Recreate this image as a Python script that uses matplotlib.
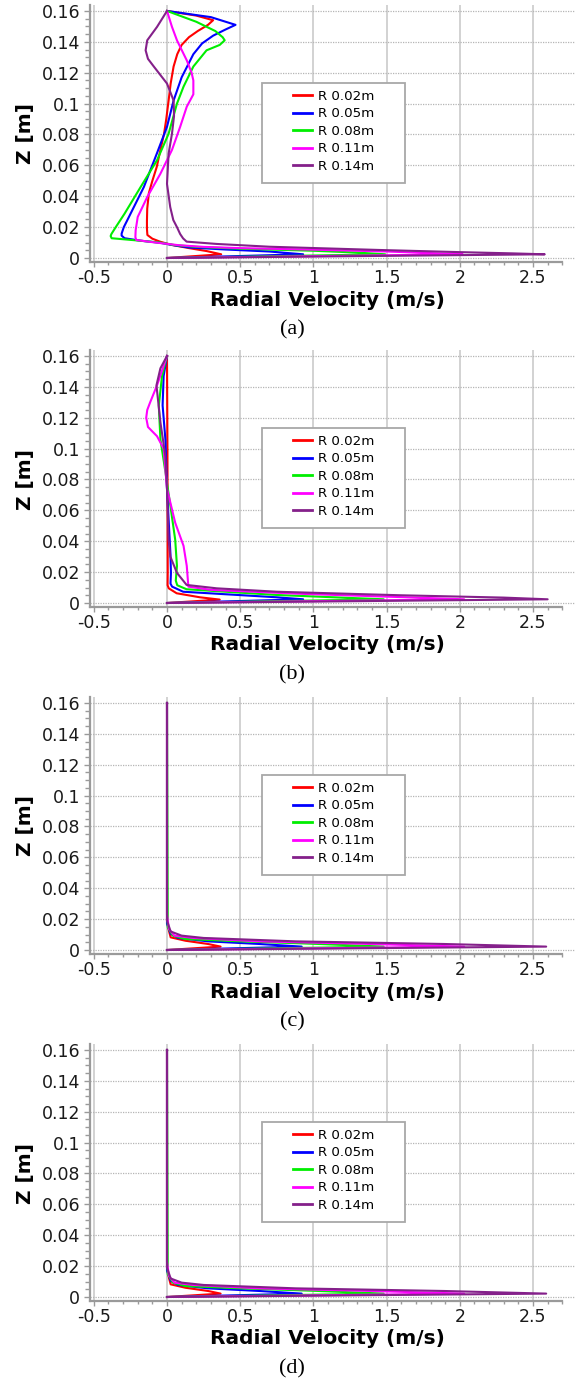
import matplotlib
matplotlib.use("Agg")
import matplotlib.pyplot as plt
from matplotlib.patches import Rectangle
from matplotlib.ticker import MultipleLocator, FixedLocator

# ---------------- data ----------------
SERIES_LABELS = ["R 0.02m", "R 0.05m", "R 0.08m", "R 0.11m", "R 0.14m"]
SERIES_COLORS = ["#ff0000", "#0000ff", "#00ee00", "#ff00ff", "#84208a"]
PANEL_CAPTIONS = ["(a)", "(b)", "(c)", "(d)"]
X_TICKS = [-0.5, 0, 0.5, 1, 1.5, 2, 2.5]
X_TICK_LABELS = ["-0.5", "0", "0.5", "1", "1.5", "2", "2.5"]
Y_TICKS = [0, 0.02, 0.04, 0.06, 0.08, 0.1, 0.12, 0.14, 0.16]
Y_TICK_LABELS = ["0", "0.02", "0.04", "0.06", "0.08", "0.1", "0.12", "0.14", "0.16"]

# Panel (a)
A_R002_Z = [0.16, 0.157, 0.154, 0.151, 0.147, 0.143, 0.138, 0.132, 0.124, 0.113, 0.102, 0.09, 0.0805, 0.07, 0.059, 0.05, 0.042, 0.032, 0.024, 0.019, 0.0149, 0.0125, 0.0106, 0.0085, 0.0063, 0.0045, 0.0024, 0.0]
A_R002_V = [0.0, 0.2, 0.315, 0.28, 0.21, 0.15, 0.10, 0.07, 0.045, 0.025, 0.011, -0.005, -0.02, -0.045, -0.07, -0.1, -0.124, -0.135, -0.137, -0.137, -0.134, -0.10, -0.048, 0.03, 0.157, 0.27, 0.37, 0.0]
A_R005_Z = [0.16, 0.156, 0.151, 0.148, 0.144, 0.139, 0.132, 0.117, 0.102, 0.085, 0.068, 0.046, 0.0266, 0.02, 0.0158, 0.0145, 0.0128, 0.0112, 0.0099, 0.0082, 0.0068, 0.0055, 0.0042, 0.0024, 0.0]
A_R005_V = [0.0, 0.3, 0.468, 0.40, 0.315, 0.24, 0.18, 0.10, 0.045, 0.0, -0.068, -0.158, -0.26, -0.295, -0.31, -0.31, -0.29, -0.18, -0.05, 0.05, 0.15, 0.4, 0.7, 0.93, 0.0]
A_R008_Z = [0.16, 0.153, 0.147, 0.143, 0.141, 0.138, 0.1345, 0.124, 0.111, 0.100, 0.0805, 0.0633, 0.046, 0.0287, 0.02, 0.0155, 0.0142, 0.0128, 0.0112, 0.0099, 0.0084, 0.0072, 0.006, 0.0047, 0.0035, 0.0024, 0.0]
A_R008_V = [0.0, 0.2, 0.33, 0.38, 0.394, 0.36, 0.27, 0.18, 0.113, 0.068, 0.011, -0.068, -0.18, -0.29, -0.35, -0.38, -0.385, -0.378, -0.184, -0.04, 0.05, 0.2, 0.5, 1.0, 1.3, 1.49, 0.0]
A_R011_Z = [0.16, 0.1497, 0.141, 0.128, 0.12, 0.115, 0.106, 0.098, 0.085, 0.070, 0.0546, 0.0395, 0.0266, 0.018, 0.0135, 0.0117, 0.0105, 0.0095, 0.0083, 0.0072, 0.0064, 0.0054, 0.0042, 0.0032, 0.0024, 0.0]
A_R011_V = [0.0, 0.034, 0.068, 0.135, 0.168, 0.18, 0.18, 0.135, 0.09, 0.034, -0.045, -0.135, -0.2, -0.214, -0.216, -0.21, -0.12, -0.03, 0.08, 0.25, 0.5, 1.0, 1.5, 1.8, 2.02, 0.0]
A_R014_Z = [0.16, 0.1497, 0.141, 0.1345, 0.129, 0.124, 0.113, 0.102, 0.092, 0.0805, 0.0676, 0.048, 0.033, 0.0246, 0.020, 0.0155, 0.0127, 0.0106, 0.0091, 0.0073, 0.0052, 0.0038, 0.0030, 0.0024, 0.0]
A_R014_V = [0.0, -0.068, -0.135, -0.146, -0.13, -0.09, 0.0, 0.045, 0.048, 0.034, 0.011, 0.0, 0.022, 0.043, 0.068, 0.09, 0.11, 0.134, 0.34, 0.7, 1.45, 2.0, 2.36, 2.58, 0.0]

# Panel (b)
B_R002_Z = [0.16, 0.10, 0.02, 0.0115, 0.0095, 0.0063, 0.0037, 0.0022, 0.0]
B_R002_V = [0.0, 0.003, 0.005, 0.004, 0.012, 0.066, 0.225, 0.36, 0.0]
B_R005_Z = [0.16, 0.147, 0.128, 0.106, 0.074, 0.0325, 0.0195, 0.0125, 0.0106, 0.0073, 0.0037, 0.0024, 0.0]
B_R005_V = [0.0, -0.023, -0.03, -0.011, 0.0, 0.023, 0.027, 0.024, 0.035, 0.11, 0.75, 0.93, 0.0]
B_R008_Z = [0.16, 0.147, 0.128, 0.106, 0.085, 0.063, 0.041, 0.024, 0.0145, 0.0115, 0.0089, 0.0052, 0.0024, 0.0]
B_R008_V = [0.0, -0.034, -0.056, -0.045, -0.011, 0.023, 0.056, 0.068, 0.06, 0.07, 0.134, 0.75, 1.48, 0.0]
B_R011_Z = [0.16, 0.141, 0.13, 0.125, 0.12, 0.114, 0.108, 0.10, 0.074, 0.052, 0.037, 0.024, 0.0106, 0.0085, 0.006, 0.0035, 0.0024, 0.0]
B_R011_V = [0.0, -0.068, -0.115, -0.135, -0.142, -0.13, -0.068, -0.023, 0.0, 0.056, 0.113, 0.135, 0.146, 0.3, 0.9, 1.7, 2.03, 0.0]
B_R014_Z = [0.16, 0.152, 0.141, 0.117, 0.095, 0.074, 0.041, 0.030, 0.0195, 0.0117, 0.0095, 0.0073, 0.005, 0.0035, 0.0024, 0.0]
B_R014_V = [0.0, -0.045, -0.072, -0.045, -0.011, 0.0, 0.011, 0.023, 0.068, 0.134, 0.34, 0.75, 1.6, 2.3, 2.6, 0.0]

# Panel (c)
C_R002_Z = [0.16, 0.019, 0.0125, 0.0082, 0.006, 0.0039, 0.0022, 0.0]
C_R002_V = [0.0, 0.0, 0.013, 0.025, 0.126, 0.28, 0.366, 0.0]
C_R005_Z = [0.16, 0.017, 0.0104, 0.0078, 0.0056, 0.0039, 0.0022, 0.0]
C_R005_V = [0.0, 0.0, 0.025, 0.076, 0.28, 0.63, 0.92, 0.0]
C_R008_Z = [0.16, 0.0147, 0.0093, 0.0071, 0.0056, 0.004, 0.0022, 0.0]
C_R008_V = [0.0, 0.005, 0.04, 0.126, 0.5, 1.01, 1.48, 0.0]
C_R011_Z = [0.16, 0.023, 0.0136, 0.0093, 0.0078, 0.0056, 0.0039, 0.0022, 0.0]
C_R011_V = [0.0, 0.0, 0.013, 0.05, 0.18, 0.63, 1.39, 2.03, 0.0]
C_R014_Z = [0.16, 0.019, 0.012, 0.0093, 0.0078, 0.0056, 0.0039, 0.0022, 0.0]
C_R014_V = [0.0, 0.0, 0.025, 0.1, 0.25, 0.88, 1.89, 2.59, 0.0]

# Panel (d)
D_R002_Z = [0.16, 0.019, 0.0125, 0.0082, 0.006, 0.0039, 0.0022, 0.0]
D_R002_V = [0.0, 0.0, 0.013, 0.025, 0.126, 0.28, 0.366, 0.0]
D_R005_Z = [0.16, 0.017, 0.0104, 0.0078, 0.0056, 0.0039, 0.0022, 0.0]
D_R005_V = [0.0, 0.0, 0.025, 0.076, 0.28, 0.63, 0.92, 0.0]
D_R008_Z = [0.16, 0.0147, 0.0093, 0.0071, 0.0056, 0.004, 0.0022, 0.0]
D_R008_V = [0.0, 0.005, 0.04, 0.126, 0.5, 1.01, 1.48, 0.0]
D_R011_Z = [0.16, 0.023, 0.0136, 0.0093, 0.0078, 0.0056, 0.0039, 0.0022, 0.0]
D_R011_V = [0.0, 0.0, 0.013, 0.05, 0.18, 0.63, 1.39, 2.03, 0.0]
D_R014_Z = [0.16, 0.019, 0.012, 0.0093, 0.0078, 0.0056, 0.0039, 0.0022, 0.0]
D_R014_V = [0.0, 0.0, 0.025, 0.1, 0.25, 0.88, 1.89, 2.59, 0.0]

PANELS = [
    [(A_R002_V, A_R002_Z), (A_R005_V, A_R005_Z), (A_R008_V, A_R008_Z), (A_R011_V, A_R011_Z), (A_R014_V, A_R014_Z)],
    [(B_R002_V, B_R002_Z), (B_R005_V, B_R005_Z), (B_R008_V, B_R008_Z), (B_R011_V, B_R011_Z), (B_R014_V, B_R014_Z)],
    [(C_R002_V, C_R002_Z), (C_R005_V, C_R005_Z), (C_R008_V, C_R008_Z), (C_R011_V, C_R011_Z), (C_R014_V, C_R014_Z)],
    [(D_R002_V, D_R002_Z), (D_R005_V, D_R005_Z), (D_R008_V, D_R008_Z), (D_R011_V, D_R011_Z), (D_R014_V, D_R014_Z)],
]

# ---------------- layout ----------------
W, H = 581, 1382
fig = plt.figure(figsize=(W / 100, H / 100), dpi=100)
plt.rcParams['font.family'] = ['DejaVu Sans']

ZERO_ROWS = [258, 603, 950, 1297]   # pixel row of z = 0 in each panel
AX_L, AX_R = 90, 575
PX_PER_X = 146.4
PX_PER_Z = 1544.0
X0_PIX = 167.0

GRAY = "#9a9a9a"

for p, (y0, series) in enumerate(zip(ZERO_ROWS, PANELS)):
    top_pix = y0 - 253
    bot_pix = y0 + 4
    ax = fig.add_axes([AX_L / W, 1 - bot_pix / H, (AX_R - AX_L) / W, (bot_pix - top_pix) / H])
    ax.set_xlim((AX_L - X0_PIX) / PX_PER_X, (AX_R - X0_PIX) / PX_PER_X)
    ax.set_ylim(-(bot_pix - y0) / PX_PER_Z, (y0 - top_pix) / PX_PER_Z)

    for (v, z), c, lab in zip(series, SERIES_COLORS, SERIES_LABELS):
        ax.plot(v, z, color=c, lw=1.5, label=lab, solid_joinstyle='round', zorder=3)

    # ticks
    ax.xaxis.set_major_locator(FixedLocator(X_TICKS))
    ax.set_xticklabels(X_TICK_LABELS)
    ax.xaxis.set_minor_locator(MultipleLocator(0.1))
    ax.yaxis.set_major_locator(FixedLocator(Y_TICKS))
    ax.set_yticklabels(Y_TICK_LABELS)
    ax.yaxis.set_minor_locator(MultipleLocator(0.005))
    ax.tick_params(axis='both', which='both', direction='out', color=GRAY, labelcolor='#1a1a1a')
    ax.tick_params(axis='x', which='major', length=3.5, width=1, pad=1.5, labelsize=12.5)
    ax.tick_params(axis='x', which='minor', length=2.5, width=1)
    ax.tick_params(axis='y', which='major', length=4.5, width=1, pad=2.5, labelsize=12.5)
    ax.tick_params(axis='y', which='minor', length=3.5, width=1)

    # spines
    for s in ['top', 'right']:
        ax.spines[s].set_visible(False)
    for s in ['left', 'bottom']:
        ax.spines[s].set_color(GRAY)
        ax.spines[s].set_linewidth(1.6)
    ax.spines['bottom'].set_bounds(ax.get_xlim()[0], 2.7)

    # grid
    ax.grid(axis='x', which='major', color='#cfcfcf', lw=1.3, ls='-', zorder=0)
    ax.grid(axis='y', which='major', color='#b5b5b5', lw=0.9, ls=(0, (1, 1)), zorder=0)
    ax.set_axisbelow(True)

    # labels
    ax.set_xlabel("Radial Velocity (m/s)", fontsize=14.5, fontweight='bold')
    ax.xaxis.set_label_coords((327 - AX_L) / (AX_R - AX_L), -(y0 + 42 - bot_pix) / (bot_pix - top_pix))
    ax.xaxis.label.set_va('center')
    ax.set_ylabel("Z [m]", fontsize=14.5, fontweight='bold')
    ax.yaxis.set_label_coords((25 - AX_L) / (AX_R - AX_L), (bot_pix - (y0 - 124)) / (bot_pix - top_pix))
    ax.yaxis.label.set_va('center')
    ax.yaxis.label.set_ha('center')

    # legend frame + legend
    lx0, lx1 = 262, 405
    ly0, ly1 = y0 - 175, y0 - 75
    frame = Rectangle((lx0 / W, 1 - ly1 / H), (lx1 - lx0) / W, (ly1 - ly0) / H,
                      transform=fig.transFigure, facecolor='white',
                      edgecolor='#a8a8a8', lw=1.3, zorder=5, clip_on=False)
    ax.add_patch(frame)
    leg = ax.legend(loc='upper left', bbox_to_anchor=(293 / W, 1 - (ly0 + 7) / H),
                    bbox_transform=fig.transFigure, frameon=False, fontsize=9.6,
                    handlelength=1.45, handletextpad=0.4, labelspacing=0.33, borderpad=0,
                    borderaxespad=0)
    leg.set_zorder(6)
    for line in leg.get_lines():
        line.set_linewidth(2.0)

    fig.text(292 / W, 1 - (y0 + 72) / H, PANEL_CAPTIONS[p], ha='center', va='center',
             fontsize=16, family=['Liberation Serif', 'DejaVu Serif'])

fig.savefig("out.png", dpi=100)
